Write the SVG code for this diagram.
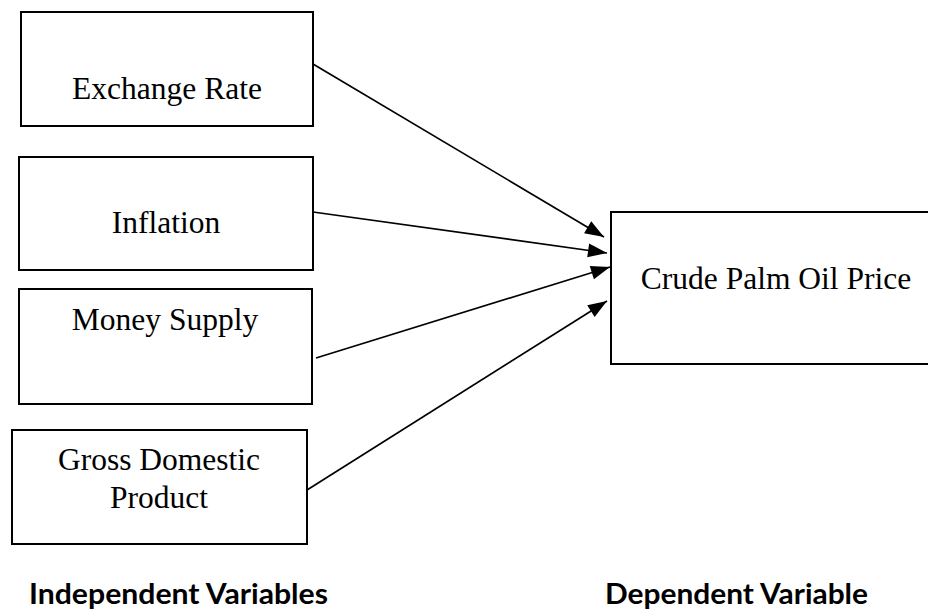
<svg xmlns="http://www.w3.org/2000/svg" width="928" height="612" viewBox="0 0 928 612">
<style>
.box{fill:#fff;stroke:#000;stroke-width:2}
.lbl{font-family:"Liberation Serif","Times New Roman",serif;font-size:31.5px;fill:#000}
.cap{font-family:Lato,"Open Sans",sans-serif;font-weight:bold;font-size:28px;fill:#000}
.conn{stroke:#000;stroke-width:1.7;fill:none}
</style>
<defs>
<marker id="ah" markerUnits="userSpaceOnUse" markerWidth="20" markerHeight="16" refX="19" refY="7" orient="auto" overflow="visible">
<path d="M0,0 L19,7 L0,14 z" fill="#000"/>
</marker>
</defs>
<rect width="928" height="612" fill="#fff"/>
<g id="n-exchange">
<rect class="box" x="21" y="12" width="292" height="114"/>
<text class="lbl" x="167" y="99" text-anchor="middle">Exchange Rate</text>
</g>
<g id="n-inflation">
<rect class="box" x="19" y="157" width="294" height="113"/>
<text class="lbl" x="166" y="233" text-anchor="middle">Inflation</text>
</g>
<g id="n-money">
<rect class="box" x="19" y="289" width="293" height="115"/>
<text class="lbl" x="165" y="330" text-anchor="middle">Money Supply</text>
</g>
<g id="n-gdp">
<rect class="box" x="12" y="430" width="295" height="114"/>
<text class="lbl" x="159" y="470" text-anchor="middle">Gross Domestic</text>
<text class="lbl" x="159" y="508" text-anchor="middle">Product</text>
</g>
<g id="n-cpo">
<rect class="box" x="611" y="212" width="330" height="152"/>
<text class="lbl" x="776" y="289" text-anchor="middle">Crude Palm Oil Price</text>
</g>
<g id="connectors">
<line class="conn" x1="313" y1="64" x2="604" y2="237" marker-end="url(#ah)"/>
<line class="conn" x1="313" y1="212" x2="607" y2="253" marker-end="url(#ah)"/>
<line class="conn" x1="316" y1="358" x2="610" y2="267" marker-end="url(#ah)"/>
<line class="conn" x1="307" y1="490" x2="607" y2="301" marker-end="url(#ah)"/>
</g>
<g id="captions">
<text class="cap" x="29" y="604" textLength="299" lengthAdjust="spacingAndGlyphs">Independent Variables</text>
<text class="cap" x="605" y="604" textLength="263" lengthAdjust="spacingAndGlyphs">Dependent Variable</text>
</g>
</svg>
